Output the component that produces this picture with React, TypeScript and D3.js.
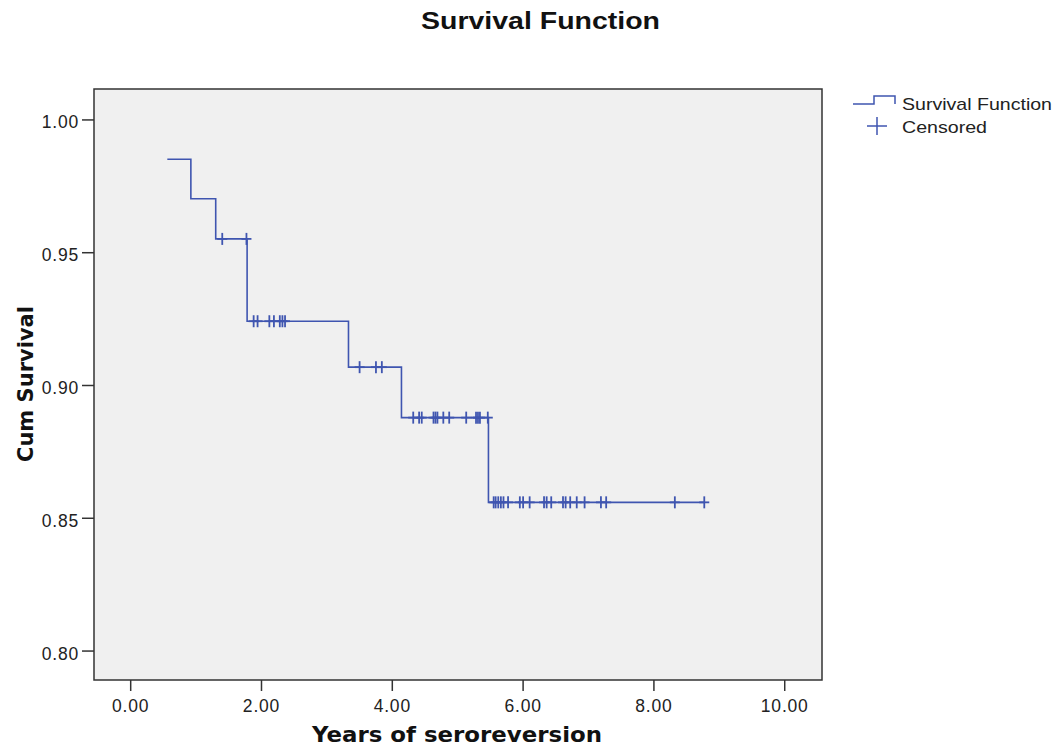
import * as d3 from "d3";

const stepTimes = [0.56, 0.92, 1.3, 1.78, 3.33, 4.14, 5.47, 8.77];
const stepSurvival = [0.9852, 0.9703, 0.9552, 0.9242, 0.9069, 0.8879, 0.856, 0.856];

const censoredTimes = [
  1.4, 1.77,
  1.88, 1.94, 2.12, 2.19, 2.28, 2.32, 2.36,
  3.5, 3.75, 3.84,
  4.32, 4.41, 4.45, 4.63, 4.66, 4.69, 4.78, 4.87, 5.13, 5.28, 5.31, 5.34,
  5.46, 5.55, 5.58, 5.62, 5.66, 5.7, 5.77, 5.95, 6.0, 6.1, 6.32, 6.36, 6.43,
  6.61, 6.65, 6.72, 6.82, 6.94, 7.19, 7.27, 8.32, 8.77,
];

const xTicks = [0, 2, 4, 6, 8, 10];
const yTicks = [0.8, 0.85, 0.9, 0.95, 1.0];

const LINE = "#3f55b0";
const FONT = "'Liberation Sans', Arial, sans-serif";
const TITLE_FONT = "'DejaVu Sans', Verdana, sans-serif";

function survivalAt(t: number) {
  const i = d3.bisectRight(stepTimes, t) - 1;
  return stepSurvival[Math.max(0, i)];
}

export default function App() {
  const width = 1056;
  const height = 748;
  const plot = { left: 94, top: 89, right: 822, bottom: 680 };

  const x = d3.scaleLinear().domain([-0.561, 10.57]).range([plot.left, plot.right]);
  const y = d3.scaleLinear().domain([0.7891, 1.01165]).range([plot.bottom, plot.top]);

  const pts: [number, number][] = stepTimes.map((t, i) => [t, stepSurvival[i]]);
  const stepLine = d3
    .line<[number, number]>()
    .x((d) => x(d[0]))
    .y((d) => y(d[1]))
    .curve(d3.curveStepAfter);

  const arm = 5;

  return (
    <svg
      width={width}
      height={height}
      style={{ position: "absolute", left: 0, top: 0, background: "#fff" }}
      fontFamily={FONT}
    >
      <text
        x={421}
        y={29}
        fontSize={23}
        fontWeight={700}
        fill="#111"
        textLength={239}
        lengthAdjust="spacingAndGlyphs"
      >
        Survival Function
      </text>

      <rect
        x={plot.left}
        y={plot.top}
        width={plot.right - plot.left}
        height={plot.bottom - plot.top}
        fill="#f0f0f0"
        stroke="#333"
        strokeWidth={1.5}
      />

      {/* y axis */}
      {yTicks.map((v) => (
        <g key={`y${v}`}>
          <line x1={plot.left - 12} x2={plot.left} y1={y(v)} y2={y(v)} stroke="#333" strokeWidth={1.5} />
          <text
            x={plot.left - 15}
            y={y(v) + 8.5}
            textAnchor="end"
            fontSize={17.5}
            letterSpacing={0.8}
            fill="#222"
          >
            {v.toFixed(2)}
          </text>
        </g>
      ))}

      {/* x axis */}
      {xTicks.map((v) => (
        <g key={`x${v}`}>
          <line x1={x(v)} x2={x(v)} y1={plot.bottom} y2={plot.bottom + 11} stroke="#333" strokeWidth={1.5} />
          <text
            x={x(v)}
            y={712}
            textAnchor="middle"
            fontSize={17.5}
            letterSpacing={0.8}
            fill="#222"
          >
            {v.toFixed(2)}
          </text>
        </g>
      ))}

      <text
        x={312}
        y={742}
        fontFamily={TITLE_FONT}
        fontSize={21}
        fontWeight={700}
        fill="#111"
        textLength={290}
        lengthAdjust="spacingAndGlyphs"
      >
        Years of seroreversion
      </text>
      <text
        transform={`translate(33, 462) rotate(-90)`}
        fontFamily={TITLE_FONT}
        fontSize={21}
        fontWeight={700}
        fill="#111"
        textLength={156}
        lengthAdjust="spacingAndGlyphs"
      >
        Cum Survival
      </text>

      {/* survival step */}
      <path d={stepLine(pts) ?? ""} fill="none" stroke={LINE} strokeWidth={1.6} />

      {/* censored marks */}
      {censoredTimes.map((t, i) => {
        const cx = x(t);
        const cy = y(survivalAt(t));
        return (
          <g key={`c${i}`} stroke={LINE} strokeWidth={1.8}>
            <line x1={cx - arm} x2={cx + arm} y1={cy} y2={cy} />
            <line x1={cx} x2={cx} y1={cy - arm - 1} y2={cy + arm + 1} />
          </g>
        );
      })}

      {/* legend */}
      <path d="M853,104 H874 V96 H895 V104" fill="none" stroke={LINE} strokeWidth={1.5} />
      <text x={902} y={110} fontSize={17} fill="#222" textLength={150} lengthAdjust="spacingAndGlyphs">
        Survival Function
      </text>
      <g stroke={LINE} strokeWidth={1.5}>
        <line x1={867} x2={887} y1={126} y2={126} />
        <line x1={877} x2={877} y1={117} y2={135} />
      </g>
      <text x={902} y={133} fontSize={17} fill="#222" textLength={85} lengthAdjust="spacingAndGlyphs">
        Censored
      </text>
    </svg>
  );
}
